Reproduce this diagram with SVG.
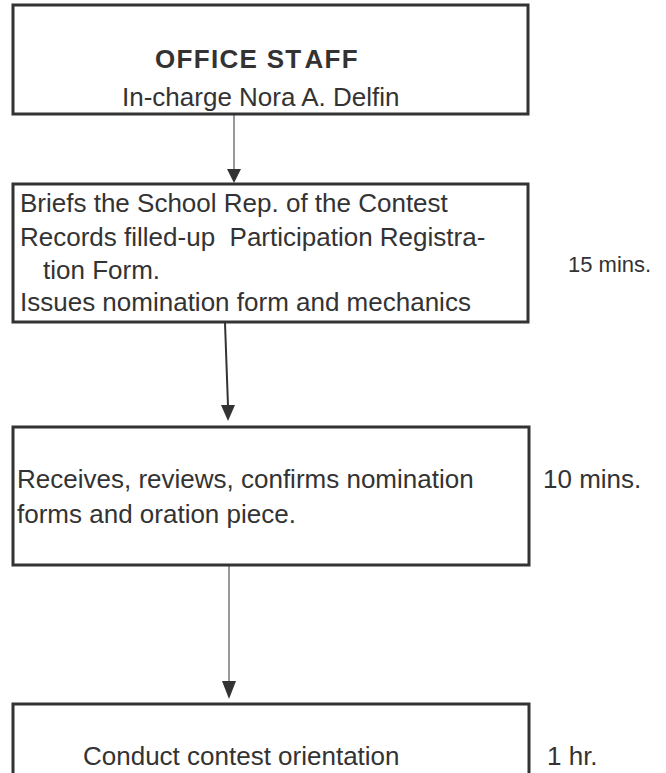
<svg xmlns="http://www.w3.org/2000/svg" width="666" height="773" viewBox="0 0 666 773">
<style>
.box{fill:#fff;stroke:#333;stroke-width:3}
.t{font-family:"Liberation Sans",Arial,sans-serif;font-size:26px;fill:#333}
.b{font-weight:bold;letter-spacing:1.3px}
.s{font-size:22px}
.c{fill:none;stroke:#555;stroke-width:1.2}
.c2{fill:none;stroke:#333;stroke-width:2}
.ah{fill:#333}
</style>
<rect width="666" height="773" fill="#fff"/>
<g id="connectors">
<line class="c" x1="234" y1="115" x2="234" y2="170"/>
<polygon class="ah" points="227,169 241,169 234,183"/>
<line class="c2" x1="225" y1="323" x2="228" y2="406"/>
<polygon class="ah" points="221,405 235,405 228,421"/>
<line class="c" x1="229" y1="566" x2="229" y2="682"/>
<polygon class="ah" points="222,681 236,681 229,699"/>
</g>
<g id="n1">
<rect class="box" x="13" y="5" width="515" height="109"/>
<text class="t b" x="155" y="68">OFFICE ST<tspan dx="4">AFF</tspan></text>
<text class="t" x="122" y="106">In-charge Nora A. Delfin</text>
</g>
<g id="n2">
<rect class="box" x="13" y="184" width="515" height="138"/>
<text class="t" x="20" y="212">Briefs the School Rep. of the Contest</text>
<text class="t" x="20" y="246" xml:space="preserve">Records filled-up  Participation Registra-</text>
<text class="t" x="43" y="279">tion Form.</text>
<text class="t" x="20" y="311">Issues nomination form and mechanics</text>
<text class="t s" x="568" y="272">15 mins.</text>
</g>
<g id="n3">
<rect class="box" x="13" y="427" width="516" height="138"/>
<text class="t" x="17" y="488">Receives, reviews, confirms nomination</text>
<text class="t" x="17" y="523">forms and oration piece.</text>
<text class="t" x="543" y="488">10 mins.</text>
</g>
<g id="n4">
<rect class="box" x="13" y="704" width="516" height="100"/>
<text class="t" x="83" y="765">Conduct contest orientation</text>
<text class="t" x="547" y="765">1 hr.</text>
</g>
</svg>
